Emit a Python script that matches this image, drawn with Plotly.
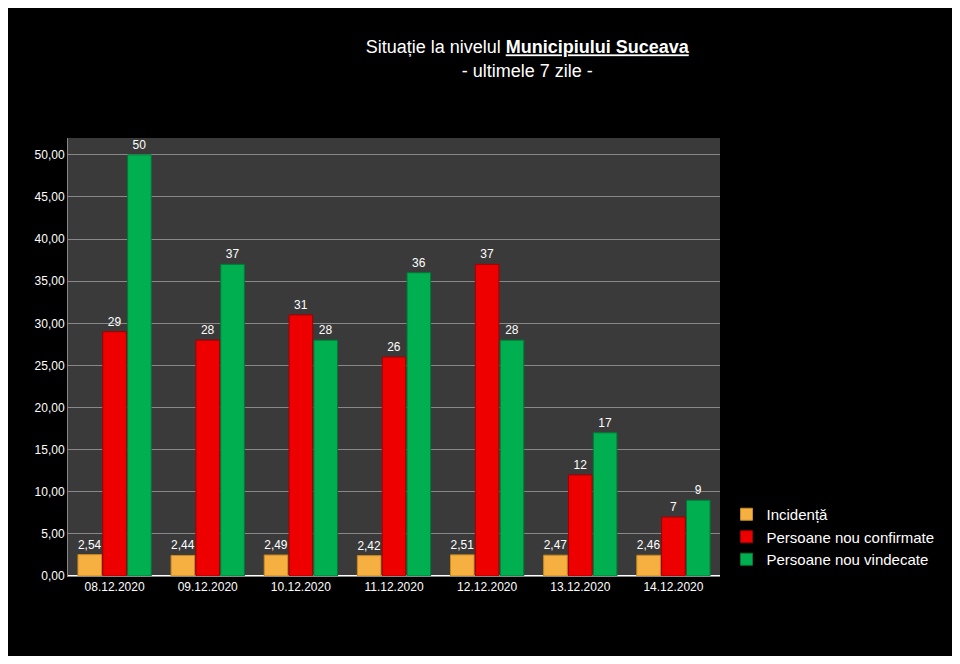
import plotly.graph_objects as go

dates = ["08.12.2020", "09.12.2020", "10.12.2020", "11.12.2020",
         "12.12.2020", "13.12.2020", "14.12.2020"]
incidenta = [2.54, 2.44, 2.49, 2.42, 2.51, 2.47, 2.46]
confirmate = [29, 28, 31, 26, 37, 12, 7]
vindecate = [50, 37, 28, 36, 28, 17, 9]

fig = go.Figure()
fig.add_trace(go.Bar(x=dates, y=incidenta, name="Incidență",
                     marker=dict(color="#f5b041", line=dict(color="#c98a1e", width=1)),
                     text=[f"{v:.2f}".replace(".", ",") for v in incidenta],
                     textposition="outside", textfont=dict(color="white", size=12)))
fig.add_trace(go.Bar(x=dates, y=confirmate, name="Persoane nou confirmate",
                     marker=dict(color="#ee0000", line=dict(color="#a00000", width=1)),
                     text=confirmate, textposition="outside",
                     textfont=dict(color="white", size=12)))
fig.add_trace(go.Bar(x=dates, y=vindecate, name="Persoane nou vindecate",
                     marker=dict(color="#00b050", line=dict(color="#007a36", width=1)),
                     text=vindecate, textposition="outside",
                     textfont=dict(color="white", size=12)))

fig.update_layout(
    width=944, height=648,
    paper_bgcolor="black", plot_bgcolor="#3a3a3a",
    separators=",.",
    barmode="group", bargap=0.2, bargroupgap=0.05,
    font=dict(family="Arial", color="white", size=13),
    title=dict(text="Situație la nivelul <b><span style='text-decoration:underline'>Municipiului Suceava</span></b><br>- ultimele 7 zile -",
               x=0.55, y=0.93, xanchor="center", font=dict(size=18, color="white")),
    margin=dict(l=60, r=220, t=130, b=80),
    legend=dict(x=1.01, y=0.0, xanchor="left", yanchor="bottom",
                font=dict(size=15, color="white"), bgcolor="rgba(0,0,0,0)"),
    yaxis=dict(range=[0, 52], dtick=5, tickformat=".2f", gridcolor="#888",
               showline=True, linecolor="#888", tickfont=dict(size=12)),
    xaxis=dict(showline=True, linecolor="#888", tickfont=dict(size=12)),
)

fig.write_html("out.html")
